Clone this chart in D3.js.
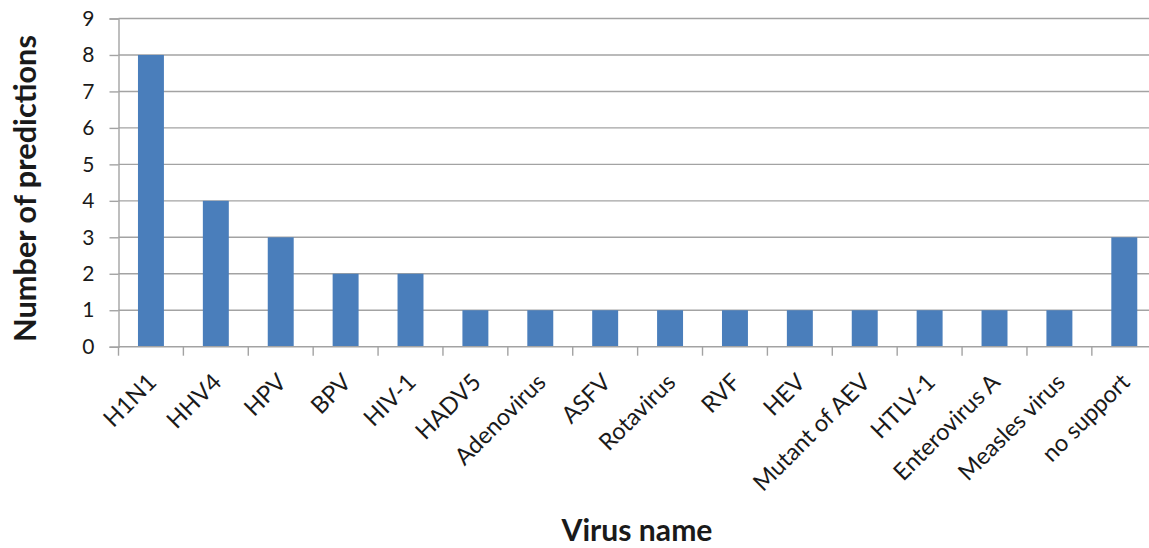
<!DOCTYPE html>
<html>
<head>
<meta charset="utf-8">
<script src="https://cdn.jsdelivr.net/npm/d3@7"></script>
<style>
  html, body { margin: 0; padding: 0; background: #fff; }
  svg { display: block; }
  text { font-family: Lato, "Open Sans", sans-serif; fill: #1a1a1a; }
</style>
</head>
<body>
<div id="chart"></div>
<script>
// Number of predictions per virus
const categories = ["H1N1", "HHV4", "HPV", "BPV", "HIV-1", "HADV5", "Adenovirus", "ASFV",
  "Rotavirus", "RVF", "HEV", "Mutant of AEV", "HTLV-1", "Enterovirus A", "Measles virus", "no support"];
const predictions = [8, 4, 3, 2, 2, 1, 1, 1, 1, 1, 1, 1, 1, 1, 1, 3];
const yTicks = [0, 1, 2, 3, 4, 5, 6, 7, 8, 9];
const xTitle = "Virus name";
const yTitle = "Number of predictions";

const W = 1149, H = 548;
const plotLeft = 118.5, plotTop = 18.5, plotBottom = 346.7;
const step = 64.89;
const plotRight = plotLeft + step * categories.length;
const gridColor = "#a3a3a3";

const svg = d3.select("#chart").append("svg")
  .attr("width", W).attr("height", H);

// scale a text's font size so its run length equals `target` pixels
function fitFont(sel, sample, target) {
  const base = 20;
  sel.attr("font-size", base);
  const node = sel.filter(d => d === sample).node() || sel.node();
  const len = node.getComputedTextLength();
  sel.attr("font-size", base * target / len);
}

const x = d3.scaleBand().domain(categories).range([plotLeft, plotRight]).paddingInner(0.6).paddingOuter(0.3);
const y = d3.scaleLinear().domain([0, 9]).range([plotBottom, plotTop]);

// horizontal gridlines
svg.append("g").selectAll("line").data(yTicks.filter(d => d > 0)).join("line")
  .attr("x1", plotLeft).attr("x2", W)
  .attr("y1", d => y(d)).attr("y2", d => y(d))
  .attr("stroke", gridColor).attr("stroke-width", 1.4);

// bars
svg.append("g").selectAll("rect").data(categories).join("rect")
  .attr("x", d => x(d))
  .attr("width", x.bandwidth())
  .attr("y", (d, i) => y(predictions[i]))
  .attr("height", (d, i) => y(0) - y(predictions[i]))
  .attr("fill", "#4a7ebb");

// y axis
const yAxis = svg.append("g").attr("transform", `translate(${plotLeft},0)`)
  .call(d3.axisLeft(y).tickValues(yTicks).tickSize(9).tickPadding(15).tickFormat(d3.format("d")));
yAxis.select(".domain").attr("stroke", gridColor).attr("stroke-width", 1.4);
yAxis.selectAll(".tick line").attr("stroke", gridColor).attr("stroke-width", 1.4);
yAxis.selectAll(".tick text").attr("font-size", 21).attr("font-family", "Lato").attr("fill", "#1a1a1a");

// x axis: tick marks sit on category boundaries
const bounds = d3.range(categories.length + 1).map(i => plotLeft + i * step);
const xAxisG = svg.append("g");
xAxisG.append("line").attr("x1", plotLeft).attr("x2", W).attr("y1", plotBottom).attr("y2", plotBottom)
  .attr("stroke", gridColor).attr("stroke-width", 1.4);
xAxisG.selectAll("line.tk").data(bounds).join("line").attr("class", "tk")
  .attr("x1", d => d).attr("x2", d => d).attr("y1", plotBottom).attr("y2", plotBottom + 9)
  .attr("stroke", gridColor).attr("stroke-width", 1.4);

// rotated category labels
const xLabels = xAxisG.selectAll("text").data(categories).join("text")
  .attr("transform", d => `translate(${x(d) + x.bandwidth() / 2 + 7},${plotBottom + 37}) rotate(-45)`)
  .attr("text-anchor", "end")
  .text(d => d);
fitFont(xLabels, "Mutant of AEV", 154);

// axis titles
const xT = svg.append("text")
  .attr("x", 637).attr("y", 541)
  .attr("text-anchor", "middle")
  .attr("font-weight", "bold")
  .text(xTitle);
fitFont(xT, xTitle, 151);

const yT = svg.append("text")
  .attr("transform", "translate(36,188.5) rotate(-90)")
  .attr("text-anchor", "middle")
  .attr("font-weight", "bold")
  .text(yTitle);
fitFont(yT, yTitle, 307);
</script>
</body>
</html>
